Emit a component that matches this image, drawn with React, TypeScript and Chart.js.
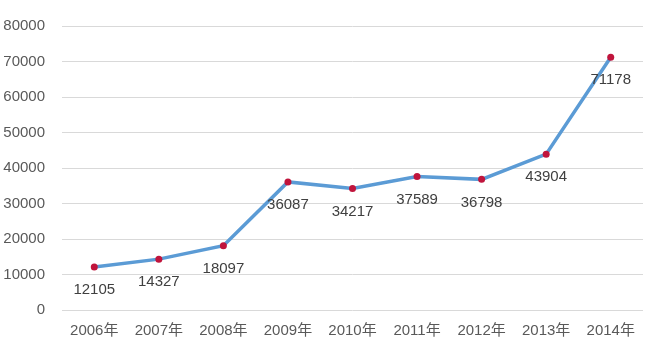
import React, { useEffect, useRef } from "react";
import { Chart, registerables } from "chart.js";

Chart.register(...registerables);

const categories = ["2006年", "2007年", "2008年", "2009年", "2010年", "2011年", "2012年", "2013年", "2014年"];
const values = [12105, 14327, 18097, 36087, 34217, 37589, 36798, 43904, 71178];
const yTicks = [0, 10000, 20000, 30000, 40000, 50000, 60000, 70000, 80000];

const FONT = "'Liberation Sans', 'Noto Sans CJK SC', sans-serif";

const labelPlugin = {
  id: "valueLabels",
  afterDatasetsDraw(chart: any) {
    const ctx = chart.ctx;
    const meta = chart.getDatasetMeta(0);
    ctx.save();
    ctx.font = `15px ${FONT}`;
    ctx.fillStyle = "#404040";
    ctx.textAlign = "center";
    ctx.textBaseline = "middle";
    meta.data.forEach((pt: any, i: number) => {
      ctx.fillText(String(values[i]), pt.x, pt.y + 23);
    });
    ctx.restore();
  },
};

export default function App() {
  const ref = useRef<HTMLCanvasElement>(null);
  useEffect(() => {
    document.body.style.margin = "0";
    const chart = new Chart(ref.current!, {
      type: "line",
      data: {
        labels: categories,
        datasets: [
          {
            data: values,
            borderColor: "#5b9bd5",
            borderWidth: 3.5,
            pointBackgroundColor: "#c0143c",
            pointBorderColor: "#c0143c",
            pointBorderWidth: 0,
            pointRadius: 3.5,
            tension: 0,
          },
        ],
      },
      options: {
        animation: false,
        responsive: false,
        maintainAspectRatio: false,
        layout: { padding: { top: 26, right: 7, left: 0, bottom: 0 } },
        plugins: { legend: { display: false }, tooltip: { enabled: false } },
        scales: {
          x: {
            offset: true,
            grid: { display: false, drawTicks: false },
            border: { display: false },
            ticks: { color: "#595959", font: { family: FONT, size: 15 }, padding: 12, maxRotation: 0, autoSkip: false },
            afterFit: (s: any) => { s.height = 43; },
          },
          y: {
            min: 0,
            max: 80000,
            afterBuildTicks: (s: any) => { s.ticks = yTicks.map((v) => ({ value: v })); },
            grid: { color: "#d9d9d9", drawTicks: false, lineWidth: 1 },
            border: { display: false },
            ticks: {
              color: "#595959",
              font: { family: FONT, size: 15 },
              padding: 17,
              callback: (v: any) => String(v),
            },
            afterFit: (s: any) => { s.width = 62; },
          },
        },
      },
      plugins: [labelPlugin],
    });
    return () => chart.destroy();
  }, []);
  return (
    <div style={{ width: 650, height: 353 }}>
      <canvas ref={ref} width={650} height={353} />
    </div>
  );
}
